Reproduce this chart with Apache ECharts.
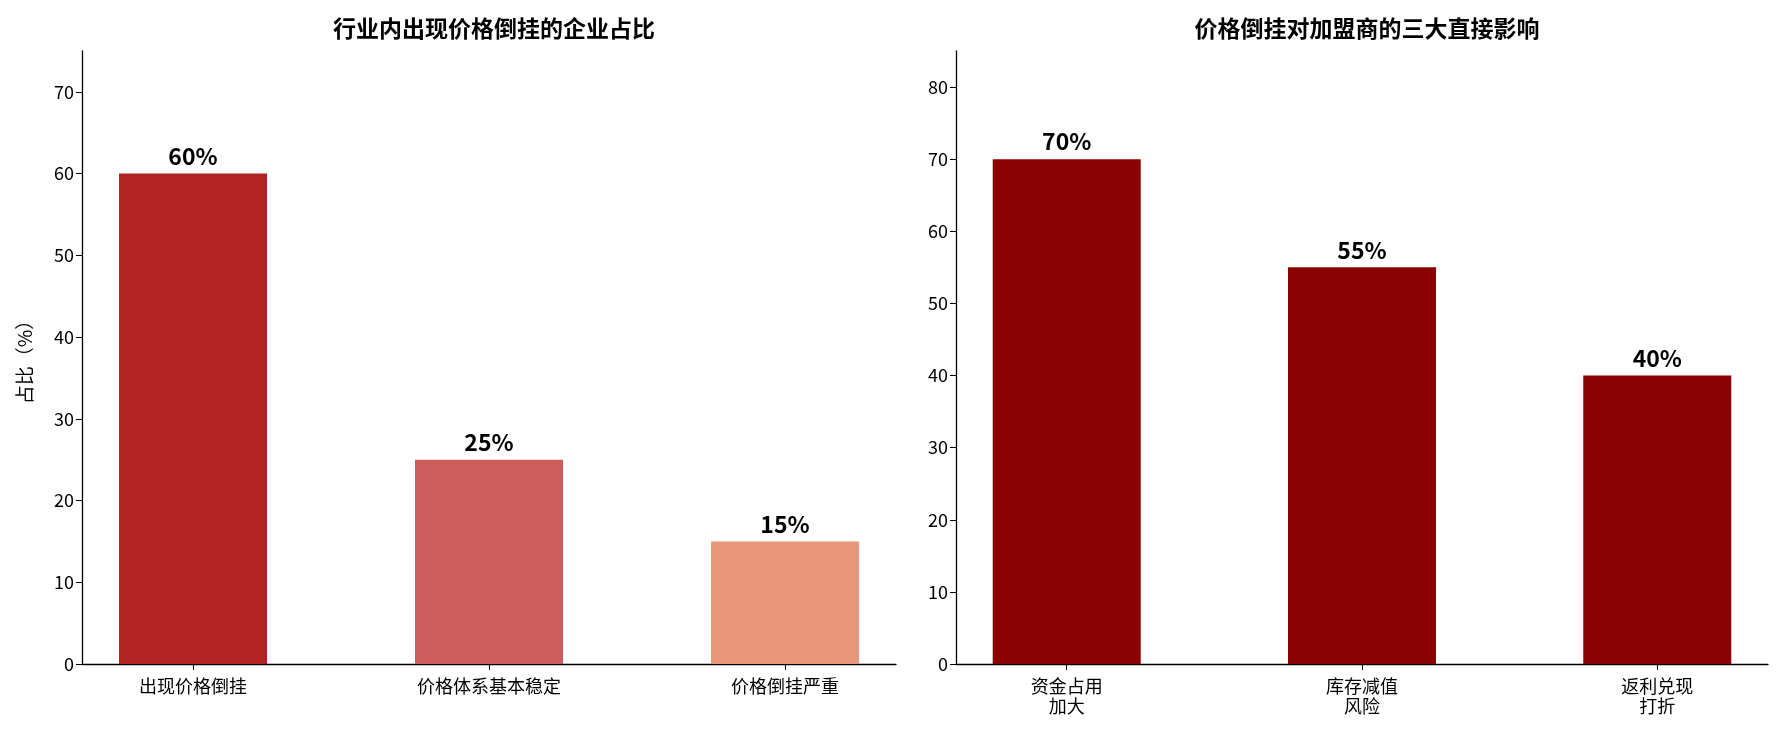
<!DOCTYPE html>
<html><head><meta charset="utf-8">
<script src="https://cdn.jsdelivr.net/npm/echarts@6/dist/echarts.min.js"></script>
<style>html,body{margin:0;padding:0;background:#fff}#c{width:1785px;height:735px}</style>
</head><body><div id="c"></div>
<script>
const leftCats=['出现价格倒挂','价格体系基本稳定','价格倒挂严重'];
const leftVals=[60,25,15];
const leftColors=['#B22222','#CD5C5C','#E9967A'];
const rightCats=['资金占用\n加大','库存减值\n风险','返利兑现\n打折'];
const rightVals=[70,55,40];
const rightColor='#8B0000';
const F='"Noto Sans CJK SC", "Noto Sans", sans-serif';
const chart=echarts.init(document.getElementById('c'));
const axisCommon={axisLine:{show:true,onZero:false,lineStyle:{color:'#000',width:1.3}},axisTick:{show:true,length:6,lineStyle:{color:'#000'}},splitLine:{show:false},axisLabel:{color:'#000',fontSize:18,fontFamily:F}};
const lbl={show:true,position:'top',formatter:p=>p.value[1]+'%',fontWeight:'bold',fontSize:23,color:'#000',fontFamily:F,distance:6};
function xa(idx,cats){return {type:'value',gridIndex:idx,min:-0.375,max:2.375,...axisCommon,
  axisTick:{show:true,length:6,lineStyle:{color:'#000'},customValues:[0,1,2]},
  axisLabel:{...axisCommon.axisLabel,margin:12,lineHeight:20,customValues:[0,1,2],formatter:v=>cats[Math.round(v)]||''}};}
chart.setOption({
 animation:false,
 title:[{text:'行业内出现价格倒挂的企业占比',left:(82+896)/2,textAlign:'center',top:12,textStyle:{fontSize:23,fontWeight:'bold',fontFamily:F,color:'#000'}},
        {text:'价格倒挂对加盟商的三大直接影响',left:(956+1768)/2,textAlign:'center',top:12,textStyle:{fontSize:23,fontWeight:'bold',fontFamily:F,color:'#000'}}],
 grid:[{left:82,width:814,top:51,height:613},{left:956,width:812,top:51,height:613}],
 xAxis:[xa(0,leftCats),xa(1,rightCats)],
 yAxis:[{type:'value',gridIndex:0,min:0,max:75,interval:10,...axisCommon,axisLabel:{...axisCommon.axisLabel,showMaxLabel:false},name:'占比（%）',nameLocation:'middle',nameGap:48,nameRotate:90,nameTextStyle:{fontSize:19,fontFamily:F,color:'#000'}},
        {type:'value',gridIndex:1,min:0,max:85,interval:10,...axisCommon,axisLabel:{...axisCommon.axisLabel,showMaxLabel:false}}],
 series:[{type:'bar',xAxisIndex:0,yAxisIndex:0,barWidth:148,data:leftVals.map((v,i)=>({value:[i,v],itemStyle:{color:leftColors[i]}})),label:lbl},
         {type:'bar',xAxisIndex:1,yAxisIndex:1,barWidth:148,data:rightVals.map((v,i)=>[i,v]),itemStyle:{color:rightColor},label:lbl}]
});
</script></body></html>
